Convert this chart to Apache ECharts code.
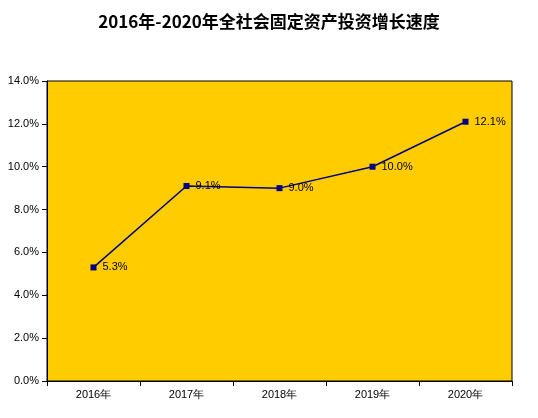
<!DOCTYPE html>
<html><head><meta charset="utf-8">
<script src="https://cdn.jsdelivr.net/npm/echarts@6/dist/echarts.min.js"></script>
<style>html,body{margin:0;padding:0;background:#fff}#c{width:538px;height:418px}</style>
</head><body><div id="c"></div>
<script>
const categories = ['2016年','2017年','2018年','2019年','2020年'];
const growth = [5.3, 9.1, 9.0, 10.0, 12.1];
const chart = echarts.init(document.getElementById('c'));
chart.setOption({
  animation:false,
  title:{text:'2016年-2020年全社会固定资产投资增长速度',left:'center',top:8,
    textStyle:{fontFamily:'Noto Sans CJK SC',fontWeight:'bold',fontSize:17,color:'#000'}},
  grid:{left:47,right:26,top:81,bottom:37,show:true,backgroundColor:'#FFCC00',borderColor:'#000',borderWidth:1},
  xAxis:{type:'category',data:categories,boundaryGap:true,
    axisLine:{lineStyle:{color:'#000'}},axisTick:{show:true,lineStyle:{color:'#000'}},
    axisLabel:{color:'#000',fontSize:11,margin:8,fontFamily:'Liberation Sans'}},
  yAxis:{type:'value',min:0,max:14,interval:2,splitLine:{show:false},
    axisLine:{show:true,lineStyle:{color:'#000'}},axisTick:{show:true,lineStyle:{color:'#000'}},
    axisLabel:{color:'#000',fontSize:11,fontFamily:'Liberation Sans',formatter:v=>v.toFixed(1)+'%'}},
  series:[{type:'line',data:growth,symbol:'rect',symbolSize:6,
    lineStyle:{color:'#000080',width:1.5},itemStyle:{color:'#000080'},
    label:{show:true,position:'right',distance:6,color:'#000',fontSize:11,fontFamily:'Liberation Sans',formatter:p=>p.value.toFixed(1)+'%'}}]
});
</script></body></html>
